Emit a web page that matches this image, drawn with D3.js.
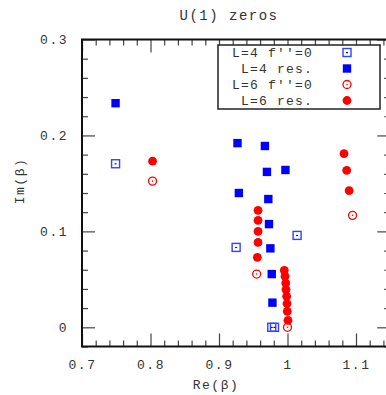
<!DOCTYPE html>
<html>
<head>
<meta charset="utf-8">
<script src="https://cdn.jsdelivr.net/npm/d3@7"></script>
<style>
  body { margin: 0; background: #fff; }
  text { font-family: "Liberation Mono", "DejaVu Sans Mono", monospace; fill: #333; }
</style>
</head>
<body>
<div id="chart"></div>
<script>
// L=4, f''=0 (open squares)
const l4fRe = [0.749, 0.925, 1.014, 0.977, 0.981];
const l4fIm = [0.1705, 0.0833, 0.0958, 0.000, 0.000];
// L=4, resonances (filled squares)
const l4rRe = [0.749, 0.927, 0.967, 0.970, 0.997, 0.929, 0.972, 0.973, 0.975, 0.977, 0.978];
const l4rIm = [0.2336, 0.192, 0.189, 0.162, 0.164, 0.140, 0.1337, 0.1076, 0.0823, 0.0555, 0.0257];
// L=6, f''=0 (open circles)
const l6fRe = [0.803, 0.955, 1.095, 1.000];
const l6fIm = [0.1524, 0.0555, 0.1167, 0.000];
// L=6, resonances (filled circles)
const l6rRe = [0.803, 1.0825, 1.0864, 1.090, 0.957, 0.957, 0.957, 0.957, 0.956,
               0.9953, 0.9964, 0.9974, 0.9978, 0.9988, 0.9993, 0.9997, 1.0007];
const l6rIm = [0.1732, 0.181, 0.1635, 0.1424, 0.1219, 0.1115, 0.100, 0.0885, 0.0729,
               0.0594, 0.0531, 0.0461, 0.0393, 0.0323, 0.0247, 0.0167, 0.0073];

const xMajor = [0.7, 0.8, 0.9, 1.0, 1.1];
const xTickLabels = ["0.7", "0.8", "0.9", "1", "1.1"];
const yMajor = [0, 0.1, 0.2, 0.3];
const yTickLabels = ["0", "0.1", "0.2", "0.3"];
const legendLabels = ["L=4 f\u2032\u2032=0", "L=4 res.", "L=6 f\u2032\u2032=0", "L=6 res."];

const width = 386, height = 395;
const svg = d3.select("#chart").append("svg")
    .attr("width", width)
    .attr("height", height);

const x = d3.scaleLinear().domain([0.7, 1.15]).range([82, 390.25]);
const y = d3.scaleLinear().domain([-0.02, 0.3]).range([346.5, 39.5]);

const xMinor = d3.range(0.72, 1.15, 0.02).filter(v => !xMajor.some(m => Math.abs(m - v) < 1e-6));
const yMinor = d3.range(-0.02, 0.3, 0.02).filter(v => !yMajor.some(m => Math.abs(m - v) < 1e-6));

const fmt = (vals, labels) => v => labels[vals.findIndex(m => Math.abs(m - v) < 1e-6)];

function drawAxis(axisFn, scale, pos, vals, size, labelFn, padding) {
    const g = svg.append("g")
        .attr("transform", pos)
        .call(axisFn(scale).tickValues(vals).tickSizeInner(-size).tickSizeOuter(0)
            .tickPadding(padding || 0).tickFormat(labelFn || (() => "")));
    g.select(".domain").remove();
    g.selectAll(".tick line").attr("stroke", "#444").attr("stroke-width", 1.2);
    g.selectAll(".tick text").attr("font-size", 13).attr("fill", "#333")
        .attr("letter-spacing", 1.5).style("font-family", "Liberation Mono, monospace");
    return g;
}

// bottom / top
drawAxis(d3.axisBottom, x, "translate(0,346.5)", xMajor, 13, fmt(xMajor, xTickLabels), 13);
drawAxis(d3.axisBottom, x, "translate(0,346.5)", xMinor, 6);
drawAxis(d3.axisTop, x, "translate(0,39.5)", xMajor, 13);
drawAxis(d3.axisTop, x, "translate(0,39.5)", xMinor, 6);
// left / right
drawAxis(d3.axisLeft, y, "translate(82,0)", yMajor, 13, fmt(yMajor, yTickLabels), 14);
drawAxis(d3.axisLeft, y, "translate(82,0)", yMinor, 6);
drawAxis(d3.axisRight, y, "translate(390.25,0)", yMajor, 13);
drawAxis(d3.axisRight, y, "translate(390.25,0)", yMinor, 6);

// frame
svg.append("rect")
    .attr("x", x.range()[0]).attr("y", y.range()[1])
    .attr("width", x.range()[1] - x.range()[0])
    .attr("height", y.range()[0] - y.range()[1])
    .attr("fill", "none").attr("stroke", "#111").attr("stroke-width", 2);

const blue = "#0000ff", red = "#ff0000";

function openSquare(g, cx, cy) {
    g.append("rect").attr("x", cx - 4).attr("y", cy - 4).attr("width", 8).attr("height", 8)
        .attr("fill", "none").attr("stroke", "#3344ff").attr("stroke-width", 1.4);
    g.append("rect").attr("x", cx - 1).attr("y", cy - 0.5).attr("width", 2).attr("height", 1.2)
        .attr("fill", blue);
}
function fillSquare(g, cx, cy) {
    g.append("rect").attr("x", cx - 4.2).attr("y", cy - 4.2).attr("width", 8.4).attr("height", 8.4)
        .attr("fill", blue);
}
function openCircle(g, cx, cy) {
    g.append("circle").attr("cx", cx).attr("cy", cy).attr("r", 4)
        .attr("fill", "none").attr("stroke", red).attr("stroke-width", 1.3);
    g.append("circle").attr("cx", cx).attr("cy", cy).attr("r", 0.8).attr("fill", red);
}
function fillCircle(g, cx, cy) {
    g.append("circle").attr("cx", cx).attr("cy", cy).attr("r", 4.4).attr("fill", red);
}

const series = [
    { re: l4fRe, im: l4fIm, draw: openSquare },
    { re: l4rRe, im: l4rIm, draw: fillSquare },
    { re: l6fRe, im: l6fIm, draw: openCircle },
    { re: l6rRe, im: l6rIm, draw: fillCircle }
];

const pts = svg.append("g");
series.forEach(s => {
    s.re.forEach((v, i) => s.draw(pts, x(v), y(s.im[i])));
});

// legend
const lg = svg.append("g");
lg.append("rect").attr("x", 218).attr("y", 45).attr("width", 162).attr("height", 64)
    .attr("fill", "#fff").attr("stroke", "#222").attr("stroke-width", 1.5);
series.forEach((s, i) => {
    const ly = 52.5 + i * 16;
    lg.append("text").attr("x", 313).attr("y", ly).attr("dy", "0.35em")
        .attr("text-anchor", "end").attr("font-size", 13).attr("letter-spacing", 1.2)
        .text(legendLabels[i]);
    s.draw(lg, 347, ly);
});

// titles
svg.append("text").attr("x", 229).attr("y", 20).attr("text-anchor", "middle")
    .attr("font-size", 14).attr("letter-spacing", 1.5).text("U(1) zeros");
svg.append("text").attr("x", 216).attr("y", 389).attr("text-anchor", "middle")
    .attr("font-size", 13).attr("letter-spacing", 1.5).text("Re(\u03b2)");
svg.append("text").attr("transform", "translate(24,181) rotate(-90)").attr("text-anchor", "middle")
    .attr("font-size", 13).attr("letter-spacing", 1.5).text("Im(\u03b2)");
</script>
</body>
</html>
